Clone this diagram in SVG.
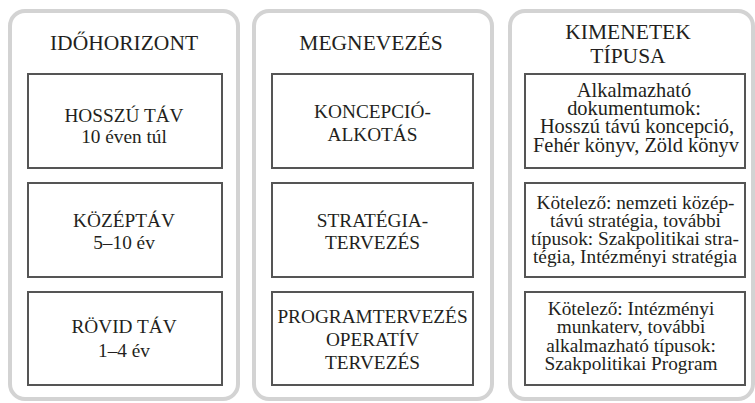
<svg xmlns="http://www.w3.org/2000/svg" width="755" height="403" viewBox="0 0 755 403">
<style>
.panel{fill:#fff;stroke:#d3d3d3;stroke-width:4}
.box{fill:#fff;stroke:#555;stroke-width:2}
.txt text{fill:#231f20;text-anchor:middle}
.t{font-size:21.5px}
.b{font-size:19.3px}
.r1{font-size:20.4px}
.r{font-size:19.3px}
</style>
<rect width="755" height="403" fill="#fff"/>
<g class="txt" font-family="'Liberation Serif', 'DejaVu Serif', serif">
<g id="col-idohorizont">
<rect class="panel" x="10" y="11" width="228" height="388" rx="15"/>
<text class="t" x="124" y="50">IDŐHORIZONT</text>
</g>
<g id="col-megnevezes">
<rect class="panel" x="254" y="11" width="238" height="388" rx="15"/>
<text class="t" x="371" y="50">MEGNEVEZÉS</text>
</g>
<g id="col-kimenetek">
<rect class="panel" x="510" y="11" width="243" height="388" rx="15"/>
<text class="t" x="628" y="39">KIMENETEK</text>
<text class="t" x="628" y="63">TÍPUSA</text>
</g>
<g id="hosszu-tav">
<rect class="box" x="28" y="74" width="194" height="94"/>
<text class="b" x="124" y="121.7">HOSSZÚ TÁV</text>
<text class="b" x="124" y="142.5">10 éven túl</text>
</g>
<g id="kozeptav">
<rect class="box" x="28" y="183" width="194" height="94"/>
<text class="b" x="124" y="226.7">KÖZÉPTÁV</text>
<text class="b" x="124" y="249.3">5–10 év</text>
</g>
<g id="rovid-tav">
<rect class="box" x="28" y="292" width="194" height="93"/>
<text class="b" x="124" y="333.3">RÖVID TÁV</text>
<text class="b" x="124" y="356.7">1–4 év</text>
</g>
<g id="koncepcioalkotas">
<rect class="box" x="272" y="74" width="201" height="94"/>
<text class="b" x="372.5" y="118.3">KONCEPCIÓ-</text>
<text class="b" x="372.5" y="140.5">ALKOTÁS</text>
</g>
<g id="strategiatervezes">
<rect class="box" x="272" y="183" width="201" height="94"/>
<text class="b" x="372.5" y="226.7">STRATÉGIA-</text>
<text class="b" x="372.5" y="249">TERVEZÉS</text>
</g>
<g id="programtervezes">
<rect class="box" x="272" y="292" width="201" height="93"/>
<text class="b" x="372.5" y="323">PROGRAMTERVEZÉS</text>
<text class="b" x="372.5" y="346">OPERATÍV</text>
<text class="b" x="372.5" y="369">TERVEZÉS</text>
</g>
<g id="kimenet-1">
<rect class="box" x="525" y="74" width="220" height="94"/>
<text class="r1" x="634" y="96.7">Alkalmazható</text>
<text class="r1" x="634" y="115">dokumentumok:</text>
<text class="r1" x="637" y="133.3">Hosszú távú koncepció,</text>
<text class="r1" x="636" y="151.7">Fehér könyv, Zöld könyv</text>
</g>
<g id="kimenet-2">
<rect class="box" x="525" y="183" width="220" height="94"/>
<text class="r" x="635.5" y="209">Kötelező: nemzeti közép-</text>
<text class="r" x="635.5" y="227">távú stratégia, további</text>
<text class="r" x="635" y="245">típusok: Szakpolitikai stra-</text>
<text class="r" x="635" y="263">tégia, Intézményi stratégia</text>
</g>
<g id="kimenet-3">
<rect class="box" x="525" y="292" width="220" height="93"/>
<text class="r" x="631" y="315">Kötelező: Intézményi</text>
<text class="r" x="631" y="333.3">munkaterv, további</text>
<text class="r" x="631" y="351.7">alkalmazható típusok:</text>
<text class="r" x="631" y="370">Szakpolitikai Program</text>
</g>
</g>
<g id="connectors"></g>
</svg>
